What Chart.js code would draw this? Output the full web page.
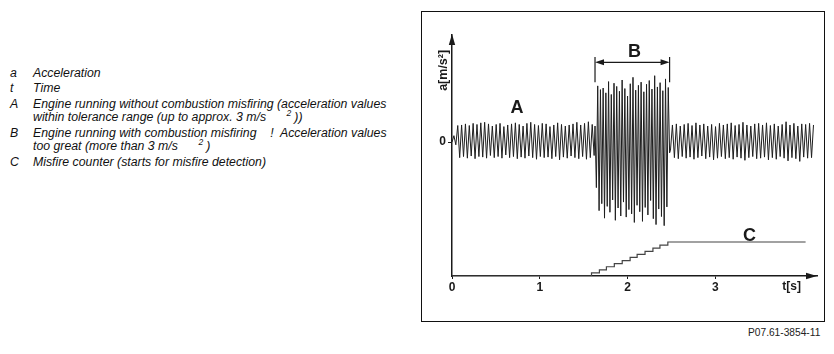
<!DOCTYPE html>
<html>
<head>
<meta charset="utf-8">
<script src="https://cdn.jsdelivr.net/npm/chart.js@4/dist/chart.umd.min.js"></script>
<style>
  html, body { margin: 0; padding: 0; background: #fff; }
  body { width: 834px; height: 354px; position: relative; overflow: hidden; font-family: "Liberation Sans", Arial, sans-serif; }
  .legend { position: absolute; left: 0; top: 0; font-style: italic; font-size: 12.3px; color: #111; }
  .row { position: absolute; white-space: pre; line-height: 14px; }
  .key { position: absolute; left: 10px; }
  .txt { position: absolute; left: 33px; }
  .sup { font-size: 8.5px; position: relative; top: -5px; margin-right: 3px; }
  #frame { position: absolute; left: 421px; top: 11px; width: 402px; height: 309px; border: 1.5px solid #111; }
  #code { position: absolute; left: 748px; top: 327px; font-size: 10.2px; color: #222; }
  #c { position: absolute; left: 0; top: 0; }
</style>
</head>
<body>
<div class="legend">
  <div class="row" style="top:66px"><span class="key">a</span><span class="txt">Acceleration</span></div>
  <div class="row" style="top:81px"><span class="key">t</span><span class="txt">Time</span></div>
  <div class="row" style="top:97px"><span class="key">A</span><span class="txt">Engine running without combustion misfiring (acceleration values</span></div>
  <div class="row" style="top:110px"><span class="txt">within tolerance range (up to approx. 3 m/s      <span class="sup">2</span>))</span></div>
  <div class="row" style="top:126px"><span class="key">B</span><span class="txt">Engine running with combustion misfiring    !  Acceleration values</span></div>
  <div class="row" style="top:139px"><span class="txt">too great (more than 3 m/s      <span class="sup">2</span>)</span></div>
  <div class="row" style="top:155px"><span class="key">C</span><span class="txt">Misfire counter (starts for misfire detection)</span></div>
</div>
<div id="frame"></div>
<div id="code">P07.61-3854-11</div>
<canvas id="c" width="834" height="354"></canvas>
<script>
// ---- data ----
const xTicks = [0, 1, 2, 3];
const yTicks = [0];

// time span [s] of each signal segment
const aLeftSpan = [0, 1.62];
const bBurstSpan = [1.63, 2.48];
const aRightSpan = [2.49, 4.12];

// acceleration peaks [m/s²], alternating
const aLeft = [0, 1.2, -0.5, 3.1, -2.9, 3.2, -2.7, 3.4, -3.0, 3.1, -2.6, 3.5, -3.1, 3.3, -2.7, 3.6, -2.8, 3.7, -3.0, 3.4,
  -2.5, 3.0, -2.9, 3.3, -2.7, 3.5, -3.0, 2.9, -2.4, 3.2, -2.9, 3.4, -2.7, 3.6, -3.1, 3.3, -2.8, 3.0, -3.0, 3.5,
  -2.6, 3.7, -2.9, 3.3, -3.2, 3.1, -2.7, 3.5, -2.9, 3.4, -2.8, 2.9, -3.1, 3.2, -2.7, 3.6, -3.3, 3.3, -2.8, 3.0,
  -3.0, 3.2, -2.6, 3.4, -2.9, 3.7, -3.1, 3.2, -2.7, 3.5, -3.2, 3.8, -2.9, 3.3, -2.5];
const bBurst = [3.0, -8.5, 10.5, -12.8, 9.8, -11.5, 10.1, -14.2, 9.2, -12.0, 11.3, -13.1, 8.9, -10.8, 11.0, -14.6,
  10.4, -12.3, 9.5, -13.8, 11.6, -11.2, 10.0, -14.0, 8.6, -12.6, 10.9, -13.4, 12.1, -15.0, 9.7, -11.8, 10.6, -13.0,
  11.2, -14.8, 9.4, -12.2, 10.8, -13.6, 11.5, -10.9, 9.9, -14.3, 12.4, -15.4, 10.3, -12.5, 11.1, -13.9, 9.6, -15.6,
  11.8, -12.1, 10.2, -2.0];
const aRight = [-1.5, 3.2, -2.9, 3.4, -3.1, 3.0, -2.7, 3.3, -3.0, 3.5, -2.8, 3.1, -3.2, 3.6, -2.9, 3.2, -2.6, 3.4,
  -3.1, 3.0, -2.8, 3.3, -3.3, 2.9, -3.0, 3.5, -2.7, 3.2, -3.1, 3.4, -2.9, 3.6, -3.2, 3.1, -2.8, 3.3, -3.0, 3.7,
  -3.4, 3.2, -2.9, 3.0, -2.7, 3.4, -3.1, 3.5, -3.0, 3.2, -2.8, 3.6, -3.3, 3.1, -2.9, 3.4, -3.2, 3.0, -2.7, 3.3,
  -3.0, 3.8, -3.5, 3.2, -2.9, 3.5, -3.1, 3.0, -3.6, 3.4, -2.8, 3.3, -3.0, 3.5, -2.9, 3.2];

// misfire counter (step changes)
const counterTimes = [0, 1.59, 1.68, 1.76, 1.85, 1.94, 2.03, 2.11, 2.20, 2.29, 2.37, 2.46, 4.03];
const counterValues = [0, 1, 2, 3, 4, 5, 6, 7, 8, 9, 10, 11, 11];

// ---- build points ----
function spread(span, vals) {
  const n = vals.length;
  return vals.map((v, i) => ({ x: span[0] + (span[1] - span[0]) * i / (n - 1), y: v }));
}
const signal = [].concat(spread(aLeftSpan, aLeft), spread(bBurstSpan, bBurst), spread(aRightSpan, aRight));
const counter = counterTimes.map((t, i) => ({ x: t, y: counterValues[i] }));

const INK = '#1a1a1a';

const decor = {
  id: 'decor',
  afterDraw(chart) {
    const { ctx, chartArea: ca, scales: { x, y } } = chart;
    ctx.save();
    ctx.fillStyle = INK;
    ctx.strokeStyle = INK;
    // axis arrowheads
    ctx.beginPath();
    ctx.moveTo(ca.left, ca.top - 1);
    ctx.lineTo(ca.left - 3.2, ca.top + 10);
    ctx.lineTo(ca.left + 3.2, ca.top + 10);
    ctx.closePath();
    ctx.fill();
    ctx.beginPath();
    ctx.moveTo(ca.right, ca.bottom);
    ctx.lineTo(ca.right - 11, ca.bottom - 3.2);
    ctx.lineTo(ca.right - 11, ca.bottom + 3.2);
    ctx.closePath();
    ctx.fill();

    // B dimension
    const x1 = x.getPixelForValue(1.63), x2 = x.getPixelForValue(2.48);
    const yTop = y.getPixelForValue(15.9), yBot = y.getPixelForValue(11.2), yH = y.getPixelForValue(14.9);
    ctx.lineWidth = 1.2;
    ctx.beginPath();
    ctx.moveTo(x1, yTop); ctx.lineTo(x1, yBot);
    ctx.moveTo(x2, yTop); ctx.lineTo(x2, yBot);
    ctx.moveTo(x1 + 6, yH); ctx.lineTo(x2 - 6, yH);
    ctx.stroke();
    ctx.beginPath();
    ctx.moveTo(x1, yH); ctx.lineTo(x1 + 9, yH - 3); ctx.lineTo(x1 + 9, yH + 3); ctx.closePath();
    ctx.moveTo(x2, yH); ctx.lineTo(x2 - 9, yH - 3); ctx.lineTo(x2 - 9, yH + 3); ctx.closePath();
    ctx.fill();

    // letters
    ctx.font = 'bold 18px "Liberation Sans", Arial, sans-serif';
    ctx.textAlign = 'center';
    ctx.textBaseline = 'middle';
    ctx.fillText('A', x.getPixelForValue(0.74), y.getPixelForValue(6.37));
    ctx.fillText('B', x.getPixelForValue(2.08), y.getPixelForValue(16.8));
    ctx.fillText('C', x.getPixelForValue(3.39), y.getPixelForValue(-17.5));

    // axis titles
    ctx.font = 'bold 12px "Liberation Sans", Arial, sans-serif';
    ctx.fillText('t[s]', x.getPixelForValue(3.87), ca.bottom + 11);
    ctx.save();
    ctx.translate(ca.left - 8, y.getPixelForValue(13.4));
    ctx.rotate(-Math.PI / 2);
    ctx.font = 'bold 12.5px "Liberation Sans", Arial, sans-serif';
    ctx.fillText('a[m/s²]', 0, 0);
    ctx.restore();
    ctx.restore();
  }
};

new Chart(document.getElementById('c'), {
  type: 'line',
  data: {
    datasets: [
      { data: signal, yAxisID: 'y', borderColor: '#1e1e1e', borderWidth: 1, pointRadius: 0, tension: 0 },
      { data: counter, yAxisID: 'y2', stepped: 'before', borderColor: '#444', borderWidth: 1.2, pointRadius: 0 }
    ]
  },
  options: {
    responsive: false,
    devicePixelRatio: 1,
    animation: false,
    layout: { padding: { left: 422, top: 35, right: 17, bottom: 53 } },
    plugins: { legend: { display: false }, tooltip: { enabled: false } },
    scales: {
      x: {
        type: 'linear', min: 0, max: 4.16,
        afterBuildTicks: s => { s.ticks = xTicks.map(v => ({ value: v })); },
        afterFit: s => { s.height = 25; },
        ticks: { color: INK, font: { family: '"Liberation Sans", Arial, sans-serif', size: 12, weight: 'bold' }, padding: 1, maxRotation: 0,
          callback: v => String(v) },
        grid: { display: true, drawOnChartArea: false, drawTicks: true, tickLength: 3, color: INK, lineWidth: 1 },
        border: { display: true, color: INK, width: 1.5 }
      },
      y: {
        type: 'linear', position: 'left', min: -25, max: 20,
        afterBuildTicks: s => { s.ticks = yTicks.map(v => ({ value: v })); },
        afterFit: s => { s.width = 30; },
        ticks: { color: INK, font: { family: '"Liberation Sans", Arial, sans-serif', size: 12, weight: 'bold' }, padding: 2,
          callback: v => String(v) },
        grid: { display: true, drawOnChartArea: false, drawTicks: true, tickLength: 4, color: INK, lineWidth: 1 },
        border: { display: true, color: INK, width: 1.5 }
      },
      y2: { type: 'linear', display: false, min: 0, max: 78 }
    }
  },
  plugins: [decor]
});
</script>
</body>
</html>
